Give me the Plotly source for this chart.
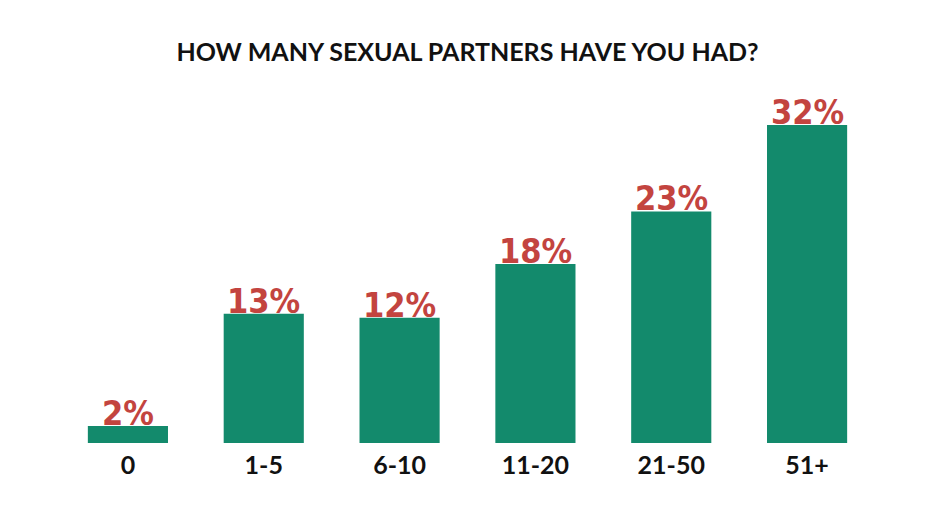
import plotly.graph_objects as go

# Survey data (bar heights as drawn in the source graphic, labels as printed)
categories = ["0", "1-5", "6-10", "11-20", "21-50", "51+"]
bar_heights = [1.7, 13, 12.6, 18, 23.3, 32]
value_labels = ["2%", "13%", "12%", "18%", "23%", "32%"]

BAR_COLOR = "#138a6c"
LABEL_COLOR = "#c3443f"

fig = go.Figure(go.Bar(
    x=categories, y=bar_heights,
    marker=dict(color=BAR_COLOR, line=dict(width=0)),
    hoverinfo="skip",
))

# value labels sit just on top of each bar
for cat, val, lab in zip(categories, bar_heights, value_labels):
    fig.add_annotation(
        x=cat, y=val, text=lab, showarrow=False,
        yanchor="bottom", yshift=-9,
        font=dict(family="DejaVu Sans Condensed, sans-serif",
                  size=34, color=LABEL_COLOR, weight="bold"),
    )

fig.update_layout(
    width=934, height=525,
    paper_bgcolor="white", plot_bgcolor="white",
    margin=dict(l=52, r=67, t=82, b=90),
    bargap=0.41,
    showlegend=False,
    title=dict(
        text="<b>HOW MANY SEXUAL PARTNERS HAVE YOU HAD?</b>",
        x=0.5, xref="paper", xanchor="center", y=0.916, yanchor="middle",
        font=dict(family="Lato, Open Sans, sans-serif", size=25, color="#111111"),
    ),
)
fig.update_xaxes(
    showgrid=False, zeroline=False, showline=False, ticks="",
    tickfont=dict(family="Lato, Open Sans, sans-serif", size=25, color="#111111", weight="bold"),
    ticklabelstandoff=5,
)
fig.update_yaxes(visible=False, range=[0, 35.52])

fig.write_html("out.html")
